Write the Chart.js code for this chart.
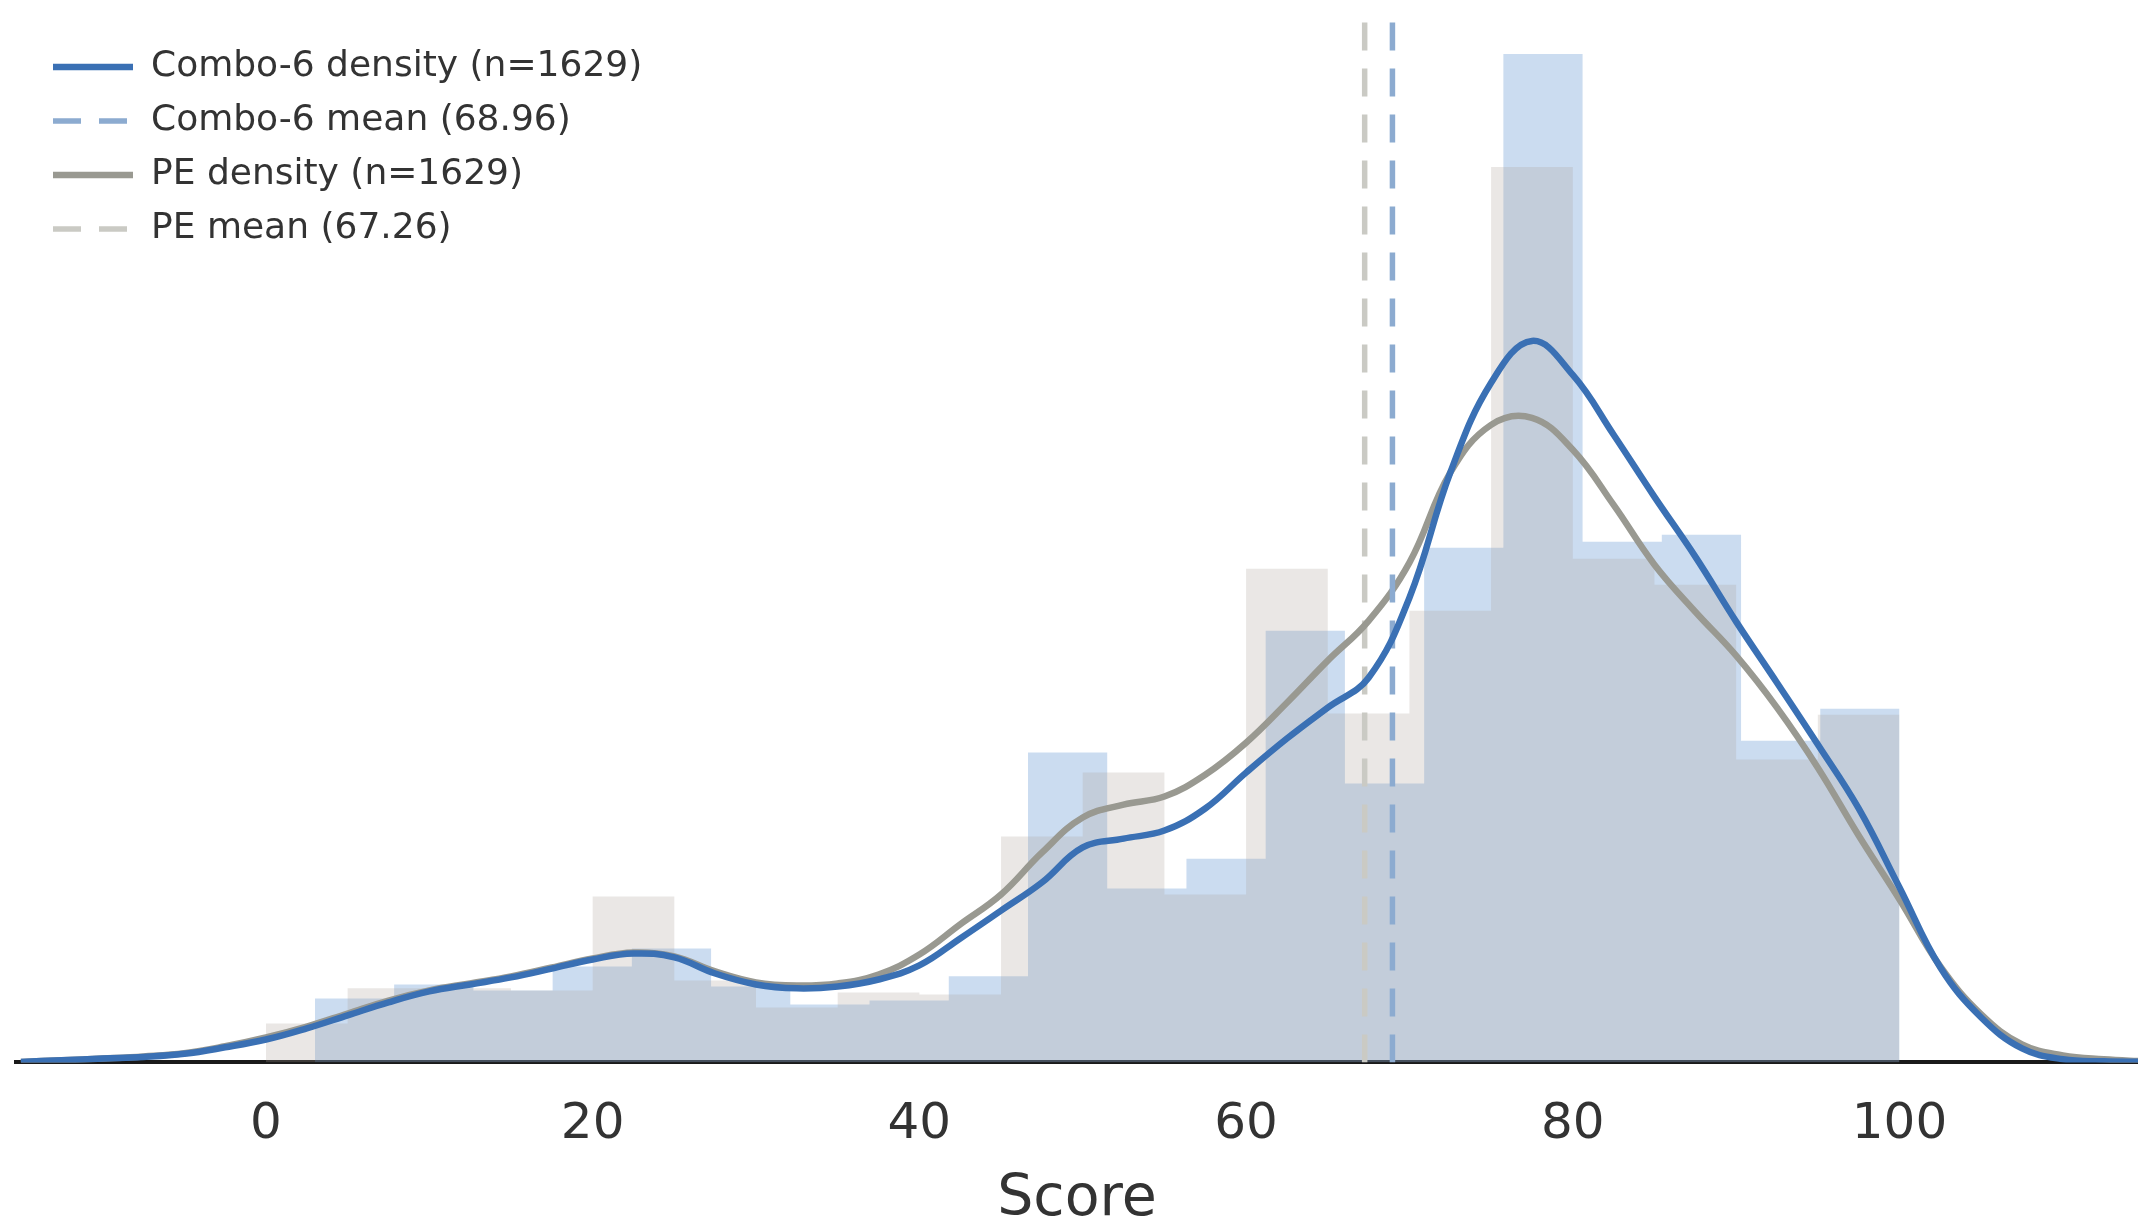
<!DOCTYPE html>
<html>
<head>
<meta charset="utf-8">
<script src="https://cdn.jsdelivr.net/npm/chart.js@4.4.1/dist/chart.umd.min.js"></script>
<style>
  html, body { margin: 0; padding: 0; background: #fff; }
  #wrap { width: 2138px; height: 1223px; position: relative; }
</style>
</head>
<body>
<div id="wrap"><canvas id="chart"></canvas></div>
<script>
// histogram bin edges and densities
const comboEdges = [3, 7.85, 12.7, 17.55, 22.4, 27.25, 32.1, 36.95, 41.8, 46.65, 51.5,
  56.35, 61.2, 66.05, 70.9, 75.75, 80.6, 85.45, 90.3, 95.15, 100];
const comboHist = [0.00246, 0.00300, 0.00277, 0.00369, 0.00438, 0.00292, 0.00223, 0.00238,
  0.00331, 0.01192, 0.00669, 0.00784, 0.01661, 0.01073, 0.01980, 0.03880, 0.02003, 0.02030,
  0.01238, 0.01361];

const peEdges = [0, 5, 10, 15, 20, 25, 30, 35, 40, 45, 50, 55, 60, 65, 70, 75, 80, 85, 90, 95, 100];
const peHist = [0.00150, 0.00285, 0.00285, 0.00277, 0.00638, 0.00315, 0.00211, 0.00269,
  0.00261, 0.00869, 0.01115, 0.00646, 0.01899, 0.01342, 0.01738, 0.03445, 0.01938, 0.01838,
  0.01165, 0.01338];

// kde curves
const kdeX = [-15, -12.5, -10, -7.5, -5, -2.5, 0, 2.5, 5, 7.5, 10, 12.5, 15, 17.5, 20, 22.5,
  25, 27.5, 30, 32.5, 35, 37.5, 40, 42.5, 45, 47.5, 50, 52.5, 55, 57.5, 60, 62.5, 65, 67.5,
  70, 72.5, 75, 77.5, 80, 82.5, 85, 87.5, 90, 92.5, 95, 97.5, 100, 102.5, 105, 107.5, 110,
  112.5, 115];
const comboKde = [0.00002, 0.00008, 0.00015, 0.00021, 0.00033, 0.00058, 0.00088, 0.00131,
  0.00181, 0.00231, 0.00273, 0.00300, 0.00327, 0.00361, 0.00396, 0.00419, 0.00404, 0.00342,
  0.00300, 0.00285, 0.00292, 0.00319, 0.00373, 0.00477, 0.00584, 0.00692, 0.00827, 0.00861,
  0.00892, 0.00977, 0.01115, 0.01246, 0.01365, 0.01480, 0.01788, 0.02269, 0.02615, 0.02776,
  0.02645, 0.02415, 0.02176, 0.01946, 0.01696, 0.01461, 0.01223, 0.00977, 0.00673, 0.00365,
  0.00173, 0.00054, 0.00012, 0.00004, 0.00002];
const peKde = [0.00002, 0.00008, 0.00015, 0.00023, 0.00035, 0.00062, 0.00096, 0.00138,
  0.00188, 0.00238, 0.00277, 0.00304, 0.00331, 0.00365, 0.00400, 0.00423, 0.00408, 0.00350,
  0.00308, 0.00296, 0.00304, 0.00338, 0.00415, 0.00531, 0.00646, 0.00807, 0.00942, 0.00992,
  0.01023, 0.01107, 0.01230, 0.01384, 0.01546, 0.01699, 0.01923, 0.02269, 0.02453, 0.02480,
  0.02357, 0.02145, 0.01915, 0.01734, 0.01565, 0.01365, 0.01134, 0.00873, 0.00627, 0.00369,
  0.00185, 0.00069, 0.00027, 0.00012, 0.00004];

const comboMean = 68.96;
const peMean = 67.26;
const n = 1629;

const xMin = -15.3, xMax = 114.6, yMax = 0.0403;

function steps(edges, heights) {
  const pts = heights.map((h, i) => ({x: edges[i], y: h}));
  pts.push({x: edges[edges.length - 1], y: heights[heights.length - 1]});
  return pts;
}
function curve(xs, ys) {
  return xs.map((x, i) => ({x: x, y: ys[i]}));
}
function vline(x) {
  return [{x: x, y: 0}, {x: x, y: yMax}];
}

const font = "'DejaVu Sans', sans-serif";

// put the legend where matplotlib had it, inside the axes
const legendShift = {
  id: 'legendShift',
  afterLayout(chart) {
    chart.legend.left = chart.chartArea.left + 19;
    chart.legend.top = 31;
  }
};

new Chart(document.getElementById('chart'), {
  type: 'line',
  data: {
    datasets: [
      {
        label: 'Combo-6 density (n=' + n + ')',
        data: curve(kdeX, comboKde),
        borderColor: '#3a70b4',
        borderWidth: 6.5,
        pointRadius: 0,
        tension: 0.4,
        order: 1
      },
      {
        label: 'Combo-6 mean (' + comboMean.toFixed(2) + ')',
        data: vline(comboMean),
        borderColor: '#8cabd0',
        borderWidth: 5.5,
        borderDash: [28, 18],
        pointRadius: 0,
        order: 2
      },
      {
        label: 'PE density (n=' + n + ')',
        data: curve(kdeX, peKde),
        borderColor: '#999991',
        borderWidth: 6.5,
        pointRadius: 0,
        tension: 0.4,
        order: 3
      },
      {
        label: 'PE mean (' + peMean.toFixed(2) + ')',
        data: vline(peMean),
        borderColor: '#cacac4',
        borderWidth: 5.5,
        borderDash: [28, 18],
        pointRadius: 0,
        order: 4
      },
      {
        label: 'PE hist',
        data: steps(peEdges, peHist),
        stepped: 'before',
        fill: 'origin',
        backgroundColor: 'rgba(170,160,150,0.25)',
        borderWidth: 0,
        pointRadius: 0,
        order: 5
      },
      {
        label: 'Combo-6 hist',
        data: steps(comboEdges, comboHist),
        stepped: 'before',
        fill: 'origin',
        backgroundColor: 'rgba(70,130,200,0.28)',
        borderWidth: 0,
        pointRadius: 0,
        order: 6
      }
    ]
  },
  options: {
    responsive: true,
    maintainAspectRatio: false,
    animation: false,
    layout: {padding: {left: 16, top: 15, right: 0, bottom: 0}},
    plugins: {
      tooltip: {enabled: false},
      legend: {
        position: 'chartArea',
        align: 'start',
        labels: {
          generateLabels(chart) {
            const items = Chart.defaults.plugins.legend.labels.generateLabels(chart);
            items.forEach(it => {
              const ds = chart.data.datasets[it.datasetIndex];
              it.lineDash = ds.borderDash || [];
              it.lineWidth = ds.borderWidth;
              it.strokeStyle = ds.borderColor;
            });
            return items;
          },
          filter: item => !item.text.endsWith('hist'),
          usePointStyle: true,
          pointStyle: 'line',
          pointStyleWidth: 80,
          padding: 18,
          color: '#333',
          font: {family: font, size: 36, lineHeight: 1}
        }
      }
    },
    scales: {
      x: {
        type: 'linear',
        min: xMin,
        max: xMax,
        grid: {display: false, drawTicks: false},
        border: {display: true, color: '#1a1a1a', width: 4},
        ticks: {
          stepSize: 20,
          includeBounds: false,
          padding: 45,
          color: '#333',
          font: {family: font, size: 50, lineHeight: 0.7}
        },
        title: {
          display: true,
          text: 'Score',
          color: '#333',
          padding: {top: -10, bottom: 0},
          font: {family: font, size: 57, lineHeight: 0.8}
        }
      },
      y: {
        display: false,
        min: 0,
        max: yMax
      }
    }
  },
  plugins: [legendShift]
});
</script>
</body>
</html>
